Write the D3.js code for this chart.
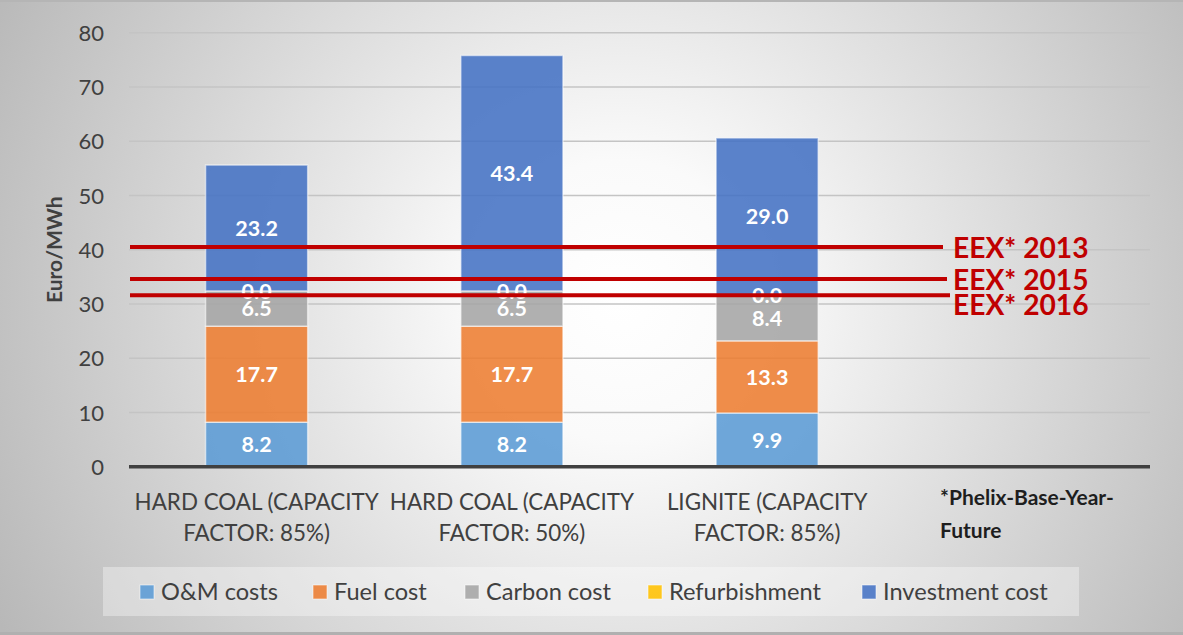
<!DOCTYPE html>
<html>
<head>
<meta charset="utf-8">
<script src="https://cdn.jsdelivr.net/npm/d3@7"></script>
<style>
  html, body { margin: 0; padding: 0; background: #fff; }
  svg { display: block; }
</style>
</head>
<body>
<svg id="chart" width="1183" height="635"></svg>
<script>
// ---------- data ----------
const categories = ["HARD COAL (CAPACITY FACTOR: 85%)", "HARD COAL (CAPACITY FACTOR: 50%)", "LIGNITE (CAPACITY FACTOR: 85%)", "*Phelix-Base-Year-Future"];
const categoryLines = [["HARD COAL (CAPACITY", "FACTOR: 85%)"], ["HARD COAL (CAPACITY", "FACTOR: 50%)"], ["LIGNITE (CAPACITY", "FACTOR: 85%)"], ["*Phelix-Base-Year-", "Future"]];
const seriesNames = ["O&M costs", "Fuel cost", "Carbon cost", "Refurbishment", "Investment cost"];
const seriesColors = ["#5b9bd5", "#ed7d31", "#a5a5a5", "#ffc000", "#4472c4"];
const omCosts = [8.2, 8.2, 9.9, null];
const fuelCost = [17.7, 17.7, 13.3, null];
const carbonCost = [6.5, 6.5, 8.4, null];
const refurbishment = [0.0, 0.0, 0.0, null];
const investmentCost = [23.2, 43.4, 29.0, null];
const eexLabels = ["EEX* 2013", "EEX* 2015", "EEX* 2016"];
const eexValues = [40.5, 34.6, 31.6];
const yTicks = [0, 10, 20, 30, 40, 50, 60, 70, 80];
const yTitle = "Euro/MWh";

const seriesValues = [omCosts, fuelCost, carbonCost, refurbishment, investmentCost];

// ---------- layout ----------
const W = 1183, H = 635;
const plot = { left: 129, right: 1150, top: 32.7, bottom: 466.7 };
const svg = d3.select("#chart");
const FONT = "Lato, 'Open Sans', sans-serif";

// background radial gradient
const defs = svg.append("defs");
const grad = defs.append("radialGradient").attr("id", "bg")
  .attr("gradientUnits", "userSpaceOnUse")
  .attr("cx", 620).attr("cy", 300).attr("r", 700);
grad.append("stop").attr("offset", "0").attr("stop-color", "#ffffff");
grad.append("stop").attr("offset", "0.2").attr("stop-color", "#fafafa");
grad.append("stop").attr("offset", "1").attr("stop-color", "#b8b8b8");
svg.append("rect").attr("width", W).attr("height", H).attr("fill", "url(#bg)");
svg.append("rect").attr("x", 0).attr("y", 0).attr("width", W).attr("height", 2).attr("fill", "#b5b5b5");
svg.append("rect").attr("x", 0).attr("y", 632).attr("width", W).attr("height", 3).attr("fill", "#b0b0b0");

// scales
const x = d3.scaleBand().domain(d3.range(categories.length))
  .range([plot.left, plot.right]).paddingInner(0.6).paddingOuter(0.3);
const y = d3.scaleLinear().domain([0, 80]).range([plot.bottom, plot.top]);

// gridlines
svg.append("g").selectAll("line").data(yTicks.filter(d => d > 0)).join("line")
  .attr("x1", plot.left).attr("x2", plot.right)
  .attr("y1", d => y(d)).attr("y2", d => y(d))
  .attr("stroke", "#c4c4c4").attr("stroke-width", 1.5);

// y axis labels
const yAxis = d3.axisLeft(y).tickValues(yTicks).tickSize(0).tickPadding(0).tickFormat(d3.format("d"));
const ya = svg.append("g").attr("transform", `translate(104,0)`).call(yAxis);
ya.select(".domain").remove();
ya.selectAll("text").attr("font-family", FONT).attr("font-size", 22).attr("fill", "#404040").attr("dy", "0.35em");

// y title
svg.append("text").attr("transform", `translate(62,${(y(30)+y(50))/2}) rotate(-90)`)
  .attr("text-anchor", "middle").attr("font-family", FONT).attr("font-weight", "bold")
  .attr("font-size", 21).attr("fill", "#404040").text(yTitle);

// stacked data
const rows = categories.map((c, i) => {
  const o = { idx: i };
  seriesNames.forEach((s, k) => { o[s] = seriesValues[k][i] == null ? 0 : seriesValues[k][i]; });
  return o;
});
const stacked = d3.stack().keys(seriesNames)(rows);

const bars = svg.append("g");
stacked.forEach((layer, k) => {
  bars.append("g").selectAll("rect").data(layer.filter(d => seriesValues[k][d.data.idx] != null)).join("rect")
    .attr("x", d => x(d.data.idx))
    .attr("width", x.bandwidth())
    .attr("y", d => y(d[1]))
    .attr("height", d => Math.max(0, y(d[0]) - y(d[1])))
    .attr("fill", seriesColors[k]).attr("fill-opacity", 0.88)
    .attr("stroke", "#ffffff").attr("stroke-opacity", 0.55).attr("stroke-width", 1.5);
});

// zero axis line
svg.append("line").attr("x1", plot.left).attr("x2", plot.right)
  .attr("y1", y(0)).attr("y2", y(0)).attr("stroke", "#404040").attr("stroke-width", 3.5);

// data labels
const lbl = svg.append("g");
stacked.forEach((layer, k) => {
  lbl.append("g").selectAll("text").data(layer.filter(d => seriesValues[k][d.data.idx] != null)).join("text")
    .attr("x", d => x(d.data.idx) + x.bandwidth() / 2)
    .attr("y", d => y((d[0] + d[1]) / 2))
    .attr("dy", "0.36em")
    .attr("text-anchor", "middle").attr("font-family", FONT).attr("font-weight", "bold")
    .attr("font-size", 21.5).attr("fill", "#ffffff")
    .text(d => d3.format(".1f")(seriesValues[k][d.data.idx]));
});

// EEX reference lines
const eexEnds = [943, 947, 950];
const eex = svg.append("g");
eexValues.forEach((v, i) => {
  eex.append("line").attr("x1", plot.left + 1).attr("x2", eexEnds[i])
    .attr("y1", y(v)).attr("y2", y(v))
    .attr("stroke", "#c00000").attr("stroke-width", 4.2);
});
const eexLabelY = [248, 280, 305];
eex.selectAll("text").data(eexLabels).join("text")
  .attr("x", 953).attr("y", (d, i) => eexLabelY[i]).attr("dy", "0.36em")
  .attr("font-family", FONT).attr("font-weight", "bold").attr("font-size", 28.2)
  .attr("fill", "#c00000").text(d => d);

// category labels
const cat = svg.append("g");
categoryLines.forEach((lines, i) => {
  const last = i === categories.length - 1;
  lines.forEach((t, j) => {
    cat.append("text")
      .attr("x", last ? 940 : x(i) + x.bandwidth() / 2)
      .attr("y", last ? 497 + j * 33 : 502 + j * 31)
      .attr("dy", "0.36em")
      .attr("text-anchor", last ? "start" : "middle")
      .attr("font-family", FONT)
      .attr("font-weight", last ? "bold" : "normal")
      .attr("font-size", last ? 21 : 22.4)
      .attr("fill", last ? "#1e1e1e" : "#404040")
      .text(t);
  });
});

// legend
const lg = svg.append("g");
lg.append("rect").attr("x", 103).attr("y", 567).attr("width", 976).attr("height", 49)
  .attr("fill", "#ffffff").attr("fill-opacity", 0.35);
const legendX = [140, 313, 465, 648, 862];
seriesNames.forEach((s, k) => {
  lg.append("rect").attr("x", legendX[k]).attr("y", 585).attr("width", 14).attr("height", 14)
    .attr("fill", seriesColors[k]).attr("fill-opacity", 0.88)
    .attr("stroke", "#ffffff").attr("stroke-opacity", 0.55).attr("stroke-width", 1);
  lg.append("text").attr("x", legendX[k] + 21).attr("y", 592).attr("dy", "0.36em")
    .attr("font-family", FONT).attr("font-size", 23.6).attr("fill", "#404040").text(s);
});
</script>
</body>
</html>
